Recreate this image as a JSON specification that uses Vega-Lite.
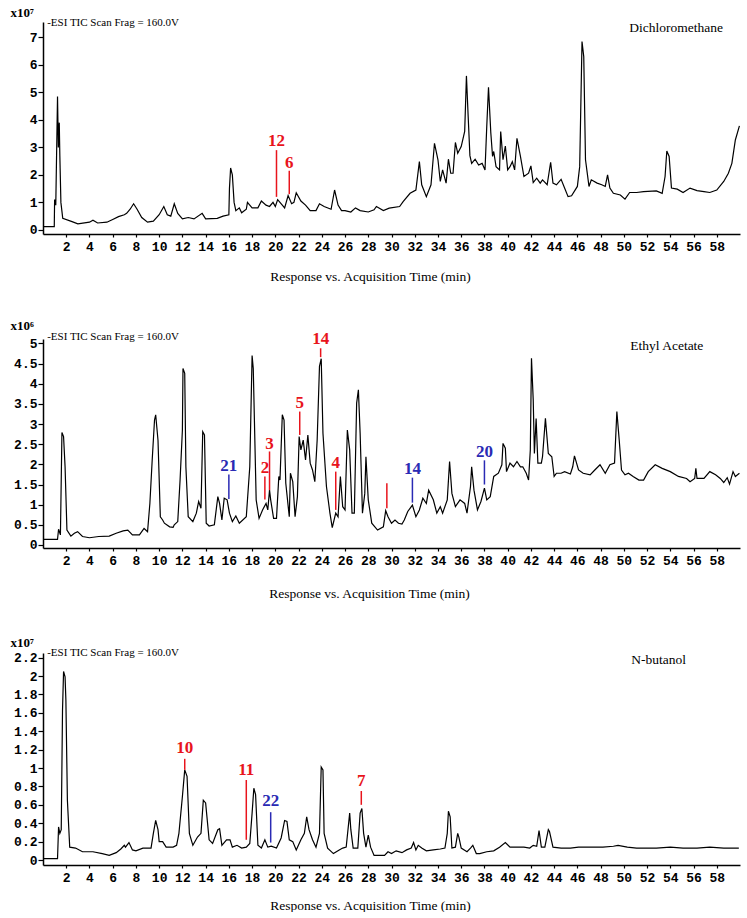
{
  "$schema": "https://vega.github.io/schema/vega-lite/v6.json",
  "background": "white",
  "padding": {"left": 10, "top": 6, "right": 0, "bottom": 0},
  "spacing": 105,
  "bounds": "flush",
  "config": {
    "view": {"stroke": null},
    "axis": {"grid": false, "domainColor": "black", "tickColor": "black", "labelColor": "black", "titleColor": "black", "labelFont": "Liberation Mono", "labelFontWeight": "bold", "labelFontSize": 13, "domainWidth": 1.5, "tickWidth": 1.2},
    "text": {"font": "Liberation Serif"}
  },
  "datasets": {
    "dcm": [
      {"t":0,"v":0.12},{"t":0.97,"v":0.12},{"t":1.0,"v":1.1},{"t":1.1,"v":0.9},{"t":1.25,"v":4.85},{"t":1.32,"v":3.0},{"t":1.4,"v":3.9},{"t":1.45,"v":2.7},{"t":1.54,"v":1.0},{"t":1.7,"v":0.42},{"t":2.5,"v":0.3},{"t":3,"v":0.22},{"t":4,"v":0.28},{"t":4.3,"v":0.35},{"t":4.7,"v":0.25},{"t":5.5,"v":0.28},{"t":6,"v":0.38},{"t":6.5,"v":0.48},{"t":7,"v":0.55},{"t":7.2,"v":0.6},{"t":7.5,"v":0.75},{"t":7.8,"v":0.95},{"t":8.1,"v":0.75},{"t":8.5,"v":0.45},{"t":9,"v":0.28},{"t":9.5,"v":0.32},{"t":10,"v":0.55},{"t":10.4,"v":0.85},{"t":10.7,"v":0.55},{"t":11,"v":0.5},{"t":11.3,"v":0.95},{"t":11.6,"v":0.6},{"t":12,"v":0.4},{"t":12.5,"v":0.45},{"t":13,"v":0.4},{"t":13.7,"v":0.6},{"t":14,"v":0.4},{"t":15,"v":0.42},{"t":15.5,"v":0.5},{"t":16,"v":0.55},{"t":16.05,"v":1.5},{"t":16.15,"v":2.25},{"t":16.3,"v":2.0},{"t":16.45,"v":1.0},{"t":16.6,"v":0.7},{"t":16.9,"v":0.8},{"t":17.1,"v":0.62},{"t":17.5,"v":0.75},{"t":17.6,"v":1.0},{"t":18,"v":0.8},{"t":18.5,"v":0.8},{"t":18.8,"v":1.05},{"t":19.2,"v":0.9},{"t":19.5,"v":0.85},{"t":19.8,"v":1.0},{"t":20,"v":0.85},{"t":20.2,"v":1.1},{"t":20.6,"v":0.9},{"t":20.8,"v":0.8},{"t":21.1,"v":1.25},{"t":21.4,"v":0.95},{"t":21.6,"v":1.0},{"t":21.8,"v":1.35},{"t":22.2,"v":1.05},{"t":22.6,"v":0.9},{"t":23,"v":0.7},{"t":23.5,"v":0.7},{"t":23.8,"v":0.95},{"t":24.2,"v":0.85},{"t":24.8,"v":0.75},{"t":25.1,"v":1.45},{"t":25.4,"v":0.9},{"t":25.7,"v":0.7},{"t":26,"v":0.7},{"t":26.5,"v":0.65},{"t":26.9,"v":0.8},{"t":27.3,"v":0.7},{"t":28,"v":0.65},{"t":28.5,"v":0.73},{"t":28.7,"v":0.85},{"t":29.3,"v":0.7},{"t":29.8,"v":0.79},{"t":30.7,"v":0.85},{"t":31.0,"v":1.03},{"t":31.6,"v":1.33},{"t":32.1,"v":1.45},{"t":32.4,"v":2.48},{"t":32.6,"v":1.64},{"t":33.0,"v":1.21},{"t":33.4,"v":1.64},{"t":33.7,"v":3.15},{"t":34.0,"v":2.55},{"t":34.2,"v":1.76},{"t":34.4,"v":2.18},{"t":34.7,"v":1.7},{"t":34.9,"v":2.57},{"t":35.1,"v":2.06},{"t":35.3,"v":2.06},{"t":35.5,"v":3.18},{"t":35.7,"v":2.79},{"t":36.0,"v":3.03},{"t":36.3,"v":3.58},{"t":36.45,"v":5.6},{"t":36.6,"v":4.12},{"t":36.75,"v":2.7},{"t":36.9,"v":2.42},{"t":37.2,"v":2.57},{"t":37.5,"v":2.36},{"t":37.8,"v":2.42},{"t":38.05,"v":2.18},{"t":38.2,"v":3.76},{"t":38.35,"v":5.19},{"t":38.55,"v":3.52},{"t":38.7,"v":2.67},{"t":38.8,"v":2.85},{"t":39.0,"v":2.3},{"t":39.3,"v":2.18},{"t":39.4,"v":3.58},{"t":39.6,"v":2.55},{"t":39.8,"v":3.05},{"t":40.0,"v":2.18},{"t":40.2,"v":2.3},{"t":40.4,"v":2.48},{"t":40.6,"v":2.18},{"t":40.8,"v":3.33},{"t":41.1,"v":2.67},{"t":41.4,"v":1.94},{"t":41.8,"v":2.06},{"t":42.0,"v":2.33},{"t":42.2,"v":1.72},{"t":42.5,"v":1.88},{"t":42.8,"v":1.7},{"t":43.0,"v":1.82},{"t":43.4,"v":1.64},{"t":43.7,"v":2.46},{"t":43.9,"v":1.7},{"t":44.2,"v":1.64},{"t":44.6,"v":1.84},{"t":44.9,"v":1.52},{"t":45.2,"v":1.21},{"t":45.5,"v":1.24},{"t":46.0,"v":1.58},{"t":46.2,"v":2.3},{"t":46.4,"v":6.85},{"t":46.55,"v":6.3},{"t":46.7,"v":2.55},{"t":47.0,"v":1.58},{"t":47.2,"v":1.82},{"t":47.7,"v":1.7},{"t":48.1,"v":1.64},{"t":48.4,"v":1.58},{"t":48.6,"v":2.0},{"t":48.8,"v":1.52},{"t":49.1,"v":1.33},{"t":49.7,"v":1.27},{"t":50.1,"v":1.12},{"t":50.5,"v":1.36},{"t":51.1,"v":1.36},{"t":51.7,"v":1.39},{"t":52.8,"v":1.42},{"t":53.3,"v":1.33},{"t":53.55,"v":1.94},{"t":53.7,"v":2.87},{"t":53.9,"v":2.67},{"t":54.1,"v":1.52},{"t":54.6,"v":1.48},{"t":55.1,"v":1.36},{"t":55.7,"v":1.52},{"t":56.3,"v":1.43},{"t":56.9,"v":1.39},{"t":57.4,"v":1.36},{"t":58.0,"v":1.45},{"t":58.6,"v":1.76},{"t":59.0,"v":2.06},{"t":59.3,"v":2.42},{"t":59.6,"v":3.27},{"t":59.95,"v":3.78}
    ],
    "ea": [
      {"t":0,"v":0.14},{"t":1.25,"v":0.14},{"t":1.34,"v":0.39},{"t":1.5,"v":0.25},{"t":1.63,"v":2.79},{"t":1.77,"v":2.69},{"t":1.9,"v":1.94},{"t":2.06,"v":0.37},{"t":2.4,"v":0.22},{"t":2.7,"v":0.29},{"t":2.98,"v":0.33},{"t":3.4,"v":0.21},{"t":4.0,"v":0.18},{"t":4.8,"v":0.21},{"t":5.7,"v":0.22},{"t":6.3,"v":0.29},{"t":6.9,"v":0.35},{"t":7.3,"v":0.37},{"t":7.7,"v":0.25},{"t":8.3,"v":0.25},{"t":8.7,"v":0.41},{"t":9.0,"v":0.33},{"t":9.2,"v":1.03},{"t":9.4,"v":2.11},{"t":9.6,"v":3.1},{"t":9.7,"v":3.23},{"t":9.9,"v":2.6},{"t":10.1,"v":0.7},{"t":10.3,"v":0.62},{"t":10.45,"v":0.54},{"t":10.9,"v":0.45},{"t":11.2,"v":0.44},{"t":11.3,"v":0.5},{"t":11.6,"v":0.58},{"t":11.8,"v":1.61},{"t":12.0,"v":2.85},{"t":12.05,"v":4.38},{"t":12.2,"v":4.26},{"t":12.3,"v":1.94},{"t":12.5,"v":0.7},{"t":12.9,"v":0.58},{"t":13.2,"v":0.79},{"t":13.4,"v":1.08},{"t":13.6,"v":0.91},{"t":13.75,"v":2.81},{"t":13.9,"v":2.73},{"t":14.05,"v":0.54},{"t":14.3,"v":0.47},{"t":14.75,"v":0.5},{"t":15.05,"v":1.2},{"t":15.2,"v":1.03},{"t":15.4,"v":0.62},{"t":15.6,"v":1.16},{"t":15.85,"v":1.12},{"t":16.05,"v":0.79},{"t":16.3,"v":0.58},{"t":16.6,"v":0.72},{"t":16.9,"v":0.54},{"t":17.5,"v":0.7},{"t":17.8,"v":1.94},{"t":18.0,"v":4.7},{"t":18.1,"v":4.38},{"t":18.35,"v":1.12},{"t":18.6,"v":0.66},{"t":18.9,"v":0.87},{"t":19.2,"v":1.03},{"t":19.35,"v":0.87},{"t":19.5,"v":1.36},{"t":19.6,"v":1.12},{"t":19.85,"v":0.66},{"t":20.1,"v":0.66},{"t":20.3,"v":1.7},{"t":20.4,"v":1.61},{"t":20.6,"v":3.23},{"t":20.75,"v":3.1},{"t":20.9,"v":1.53},{"t":21.2,"v":0.7},{"t":21.3,"v":1.78},{"t":21.5,"v":1.57},{"t":21.7,"v":0.7},{"t":21.9,"v":1.2},{"t":22.05,"v":2.69},{"t":22.2,"v":2.36},{"t":22.4,"v":2.6},{"t":22.6,"v":2.11},{"t":22.8,"v":2.73},{"t":23.0,"v":2.03},{"t":23.2,"v":1.86},{"t":23.4,"v":1.57},{"t":23.6,"v":2.6},{"t":23.8,"v":4.43},{"t":23.95,"v":4.62},{"t":24.1,"v":2.77},{"t":24.4,"v":1.45},{"t":24.7,"v":0.79},{"t":24.9,"v":0.43},{"t":25.2,"v":0.79},{"t":25.4,"v":0.7},{"t":25.6,"v":1.7},{"t":25.8,"v":0.95},{"t":26.0,"v":0.87},{"t":26.2,"v":2.85},{"t":26.4,"v":2.36},{"t":26.6,"v":0.79},{"t":26.8,"v":0.79},{"t":27.0,"v":3.52},{"t":27.15,"v":3.85},{"t":27.3,"v":2.77},{"t":27.5,"v":0.79},{"t":27.7,"v":1.28},{"t":27.8,"v":2.19},{"t":28.0,"v":1.12},{"t":28.3,"v":0.54},{"t":28.8,"v":0.37},{"t":29.3,"v":0.45},{"t":29.5,"v":0.85},{"t":29.7,"v":0.7},{"t":30.0,"v":0.54},{"t":30.3,"v":0.62},{"t":30.6,"v":0.54},{"t":30.9,"v":0.52},{"t":31.1,"v":0.62},{"t":31.4,"v":0.83},{"t":31.8,"v":0.99},{"t":32.1,"v":0.7},{"t":32.4,"v":0.87},{"t":32.7,"v":1.16},{"t":33.0,"v":1.03},{"t":33.2,"v":1.36},{"t":33.6,"v":1.12},{"t":33.9,"v":0.79},{"t":34.2,"v":0.95},{"t":34.4,"v":0.79},{"t":34.8,"v":1.12},{"t":35.0,"v":2.07},{"t":35.2,"v":1.28},{"t":35.5,"v":0.95},{"t":35.9,"v":1.12},{"t":36.3,"v":1.03},{"t":36.5,"v":0.79},{"t":36.8,"v":1.45},{"t":36.9,"v":1.94},{"t":37.1,"v":1.36},{"t":37.4,"v":0.87},{"t":37.7,"v":1.08},{"t":38.0,"v":1.41},{"t":38.2,"v":1.12},{"t":38.5,"v":1.2},{"t":38.8,"v":1.7},{"t":39.2,"v":1.78},{"t":39.5,"v":1.99},{"t":39.6,"v":2.52},{"t":39.8,"v":2.4},{"t":39.9,"v":1.82},{"t":40.2,"v":2.03},{"t":40.5,"v":1.94},{"t":40.8,"v":2.07},{"t":41.1,"v":1.94},{"t":41.3,"v":1.94},{"t":41.6,"v":1.78},{"t":41.8,"v":1.61},{"t":41.95,"v":2.36},{"t":42.05,"v":4.63},{"t":42.2,"v":3.6},{"t":42.3,"v":2.27},{"t":42.45,"v":3.14},{"t":42.6,"v":2.03},{"t":42.9,"v":2.03},{"t":43.0,"v":2.19},{"t":43.25,"v":3.14},{"t":43.5,"v":2.27},{"t":43.8,"v":2.19},{"t":44.0,"v":1.7},{"t":44.2,"v":1.78},{"t":44.6,"v":1.78},{"t":44.9,"v":1.82},{"t":45.4,"v":1.76},{"t":45.6,"v":1.94},{"t":45.75,"v":2.21},{"t":46.1,"v":1.86},{"t":46.5,"v":1.78},{"t":47.1,"v":1.74},{"t":47.5,"v":1.86},{"t":47.95,"v":1.99},{"t":48.4,"v":1.78},{"t":48.8,"v":1.99},{"t":49.2,"v":2.03},{"t":49.4,"v":3.31},{"t":49.6,"v":2.61},{"t":49.8,"v":1.86},{"t":50.1,"v":1.74},{"t":50.4,"v":1.78},{"t":50.8,"v":1.7},{"t":51.3,"v":1.61},{"t":51.7,"v":1.61},{"t":52.1,"v":1.82},{"t":52.7,"v":1.99},{"t":53.3,"v":1.9},{"t":54.0,"v":1.82},{"t":54.7,"v":1.7},{"t":55.4,"v":1.65},{"t":55.7,"v":1.57},{"t":56.1,"v":1.65},{"t":56.2,"v":1.9},{"t":56.3,"v":1.65},{"t":56.9,"v":1.65},{"t":57.4,"v":1.82},{"t":57.9,"v":1.74},{"t":58.3,"v":1.65},{"t":58.6,"v":1.55},{"t":58.9,"v":1.67},{"t":59.1,"v":1.51},{"t":59.4,"v":1.82},{"t":59.6,"v":1.7},{"t":59.95,"v":1.78}
    ],
    "nb": [
      {"t":0,"v":0.015},{"t":1.25,"v":0.015},{"t":1.34,"v":0.36},{"t":1.45,"v":0.29},{"t":1.57,"v":0.33},{"t":1.68,"v":1.63},{"t":1.77,"v":2.05},{"t":1.9,"v":1.99},{"t":1.97,"v":1.74},{"t":2.1,"v":0.65},{"t":2.3,"v":0.14},{"t":2.8,"v":0.13},{"t":3.4,"v":0.09},{"t":4.3,"v":0.09},{"t":5.1,"v":0.07},{"t":5.7,"v":0.05},{"t":6.3,"v":0.08},{"t":6.7,"v":0.12},{"t":7.0,"v":0.16},{"t":7.1,"v":0.14},{"t":7.4,"v":0.19},{"t":7.7,"v":0.11},{"t":8.0,"v":0.1},{"t":8.6,"v":0.13},{"t":9.3,"v":0.13},{"t":9.5,"v":0.29},{"t":9.7,"v":0.43},{"t":9.9,"v":0.33},{"t":10.0,"v":0.2},{"t":10.3,"v":0.2},{"t":10.6,"v":0.14},{"t":11.2,"v":0.14},{"t":11.5,"v":0.16},{"t":11.7,"v":0.29},{"t":12.0,"v":0.69},{"t":12.2,"v":0.98},{"t":12.4,"v":0.91},{"t":12.6,"v":0.29},{"t":12.9,"v":0.16},{"t":13.3,"v":0.25},{"t":13.6,"v":0.29},{"t":13.8,"v":0.65},{"t":14.0,"v":0.62},{"t":14.3,"v":0.22},{"t":14.6,"v":0.18},{"t":15.05,"v":0.33},{"t":15.2,"v":0.34},{"t":15.4,"v":0.16},{"t":15.8,"v":0.22},{"t":16.1,"v":0.22},{"t":16.3,"v":0.14},{"t":16.7,"v":0.16},{"t":17.1,"v":0.13},{"t":17.5,"v":0.14},{"t":17.8,"v":0.18},{"t":18.0,"v":0.51},{"t":18.15,"v":0.78},{"t":18.3,"v":0.71},{"t":18.5,"v":0.16},{"t":18.8,"v":0.13},{"t":19.1,"v":0.22},{"t":19.35,"v":0.14},{"t":19.65,"v":0.15},{"t":20.1,"v":0.13},{"t":20.5,"v":0.24},{"t":20.8,"v":0.43},{"t":21.0,"v":0.42},{"t":21.2,"v":0.22},{"t":21.5,"v":0.2},{"t":21.8,"v":0.11},{"t":22.2,"v":0.22},{"t":22.5,"v":0.29},{"t":22.7,"v":0.47},{"t":22.9,"v":0.33},{"t":23.2,"v":0.22},{"t":23.5,"v":0.14},{"t":23.8,"v":0.29},{"t":23.95,"v":1.01},{"t":24.1,"v":0.98},{"t":24.2,"v":0.29},{"t":24.5,"v":0.13},{"t":25.0,"v":0.07},{"t":25.5,"v":0.11},{"t":25.8,"v":0.13},{"t":26.1,"v":0.14},{"t":26.4,"v":0.51},{"t":26.5,"v":0.33},{"t":26.7,"v":0.13},{"t":27.1,"v":0.13},{"t":27.3,"v":0.51},{"t":27.45,"v":0.56},{"t":27.6,"v":0.29},{"t":27.8,"v":0.14},{"t":28.0,"v":0.27},{"t":28.2,"v":0.14},{"t":28.5,"v":0.05},{"t":29.0,"v":0.05},{"t":29.4,"v":0.05},{"t":29.7,"v":0.09},{"t":30.0,"v":0.07},{"t":30.4,"v":0.1},{"t":30.9,"v":0.08},{"t":31.3,"v":0.11},{"t":31.7,"v":0.13},{"t":31.9,"v":0.19},{"t":32.1,"v":0.11},{"t":32.3,"v":0.16},{"t":32.6,"v":0.13},{"t":33.0,"v":0.1},{"t":33.6,"v":0.11},{"t":34.2,"v":0.12},{"t":34.6,"v":0.13},{"t":34.8,"v":0.29},{"t":34.9,"v":0.53},{"t":35.05,"v":0.47},{"t":35.2,"v":0.13},{"t":35.5,"v":0.14},{"t":35.7,"v":0.29},{"t":35.8,"v":0.25},{"t":36.0,"v":0.13},{"t":36.5,"v":0.09},{"t":36.8,"v":0.13},{"t":37.0,"v":0.16},{"t":37.3,"v":0.07},{"t":37.6,"v":0.07},{"t":38.2,"v":0.09},{"t":38.8,"v":0.1},{"t":39.3,"v":0.14},{"t":39.8,"v":0.19},{"t":40.2,"v":0.14},{"t":40.8,"v":0.14},{"t":41.4,"v":0.14},{"t":41.9,"v":0.13},{"t":42.2,"v":0.16},{"t":42.5,"v":0.15},{"t":42.7,"v":0.32},{"t":42.9,"v":0.14},{"t":43.2,"v":0.14},{"t":43.5,"v":0.33},{"t":43.6,"v":0.31},{"t":43.9,"v":0.14},{"t":44.6,"v":0.13},{"t":45.4,"v":0.13},{"t":46.1,"v":0.14},{"t":47.1,"v":0.14},{"t":48.2,"v":0.14},{"t":49.1,"v":0.15},{"t":49.5,"v":0.16},{"t":50.3,"v":0.14},{"t":51.1,"v":0.13},{"t":52.0,"v":0.13},{"t":52.8,"v":0.13},{"t":54.0,"v":0.14},{"t":55.1,"v":0.13},{"t":56.3,"v":0.13},{"t":57.4,"v":0.14},{"t":58.6,"v":0.13},{"t":59.9,"v":0.13}
    ],
    "ann": [
      {"p":"dcm","x":20.1,"y1":1.2,"y2":2.9,"ly":3.25,"lab":"12","c":"red"},
      {"p":"dcm","x":21.2,"y1":1.3,"y2":2.15,"ly":2.45,"lab":"6","c":"red"},
      {"p":"ea","x":16.0,"y1":1.14,"y2":1.75,"ly":1.97,"lab":"21","c":"blue"},
      {"p":"ea","x":19.1,"y1":1.13,"y2":1.7,"ly":1.92,"lab":"2","c":"red"},
      {"p":"ea","x":19.5,"y1":1.36,"y2":2.32,"ly":2.5,"lab":"3","c":"red"},
      {"p":"ea","x":22.1,"y1":2.73,"y2":3.31,"ly":3.52,"lab":"5","c":"red"},
      {"p":"ea","x":23.9,"y1":4.66,"y2":4.88,"ly":5.12,"lab":"14","c":"red"},
      {"p":"ea","x":25.2,"y1":0.87,"y2":1.82,"ly":2.04,"lab":"4","c":"red"},
      {"p":"ea","x":29.6,"y1":0.91,"y2":1.53,"ly":1.7,"lab":"","c":"red"},
      {"p":"ea","x":31.8,"y1":1.05,"y2":1.67,"ly":1.88,"lab":"14","c":"blue"},
      {"p":"ea","x":38.0,"y1":1.5,"y2":2.1,"ly":2.3,"lab":"20","c":"blue"},
      {"p":"nb","x":12.2,"y1":0.98,"y2":1.1,"ly":1.22,"lab":"10","c":"red"},
      {"p":"nb","x":17.5,"y1":0.22,"y2":0.87,"ly":0.98,"lab":"11","c":"red"},
      {"p":"nb","x":19.6,"y1":0.19,"y2":0.52,"ly":0.64,"lab":"22","c":"blue"},
      {"p":"nb","x":27.4,"y1":0.6,"y2":0.75,"ly":0.86,"lab":"7","c":"red"}
    ],
    "lbl": [
      {"p":"dcm","x":0.36,"y":7.53,"txt":"-ESI TIC Scan Frag = 160.0V","k":"esi"},
      {"p":"dcm","x":54.5,"y":7.35,"txt":"Dichloromethane","k":"name"},
      {"p":"ea","x":0.36,"y":5.15,"txt":"-ESI TIC Scan Frag = 160.0V","k":"esi"},
      {"p":"ea","x":53.7,"y":4.94,"txt":"Ethyl Acetate","k":"name"},
      {"p":"nb","x":0.36,"y":2.25,"txt":"-ESI TIC Scan Frag = 160.0V","k":"esi"},
      {"p":"nb","x":53.0,"y":2.17,"txt":"N-butanol","k":"name"}
    ]
  },
  "vconcat": [
    {
      "width": 697, "height": 212,
      "encoding": {
        "x": {"type": "quantitative", "scale": {"domain": [0, 60], "nice": false, "zero": false},
              "axis": {"values": [2,4,6,8,10,12,14,16,18,20,22,24,26,28,30,32,34,36,38,40,42,44,46,48,50,52,54,56,58], "title": "Response vs. Acquisition Time (min)", "titleFont": "Liberation Serif", "titleFontWeight": "normal", "titleFontSize": 13.5, "titleX": 327, "titleY": 42, "titleAlign": "center", "titleBaseline": "middle", "tickSize": 3, "labelPadding": 3, "labelFlush": false}},
        "y": {"type": "quantitative", "scale": {"domain": [-0.15, 7.56], "nice": false, "zero": false},
              "axis": {"values": [0,1,2,3,4,5,6,7], "format": "~g", "title": "x10⁷", "titleAngle": 0, "titleAlign": "left", "titleBaseline": "top", "titleX": -33, "titleY": -16, "titleFont": "Liberation Serif", "titleFontWeight": "bold", "titleFontSize": 13, "tickSize": 5, "labelPadding": 1}}
      },
      "layer": [
        {"data": {"name": "dcm"}, "mark": {"type": "line", "color": "black", "strokeWidth": 1.2}, "encoding": {"x": {"field": "t"}, "y": {"field": "v"}}},
        {"data": {"name": "ann"}, "transform": [{"filter": "datum.p === 'dcm'"}], "mark": {"type": "rule", "strokeWidth": 1.5},
         "encoding": {"x": {"field": "x"}, "y": {"field": "y1"}, "y2": {"field": "y2"}, "color": {"field": "c", "type": "nominal", "scale": {"domain": ["red", "blue"], "range": ["#e8141c", "#2a2ab4"]}, "legend": null}}},
        {"data": {"name": "ann"}, "transform": [{"filter": "datum.p === 'dcm'"}], "mark": {"type": "text", "fontWeight": "bold", "fontSize": 17, "baseline": "middle"},
         "encoding": {"x": {"field": "x"}, "y": {"field": "ly"}, "text": {"field": "lab"}, "color": {"field": "c", "type": "nominal", "scale": {"domain": ["red", "blue"], "range": ["#e8141c", "#2a2ab4"]}, "legend": null}}},
        {"data": {"name": "lbl"}, "transform": [{"filter": "datum.p === 'dcm' && datum.k === 'esi'"}], "mark": {"type": "text", "fontSize": 11, "align": "left", "baseline": "middle", "color": "black"},
         "encoding": {"x": {"field": "x"}, "y": {"field": "y"}, "text": {"field": "txt"}}},
        {"data": {"name": "lbl"}, "transform": [{"filter": "datum.p === 'dcm' && datum.k === 'name'"}], "mark": {"type": "text", "fontSize": 13.5, "align": "center", "baseline": "middle", "color": "black"},
         "encoding": {"x": {"field": "x"}, "y": {"field": "y"}, "text": {"field": "txt"}}}
      ]
    },
    {
      "width": 697, "height": 209,
      "encoding": {
        "x": {"type": "quantitative", "scale": {"domain": [0, 60], "nice": false, "zero": false},
              "axis": {"values": [2,4,6,8,10,12,14,16,18,20,22,24,26,28,30,32,34,36,38,40,42,44,46,48,50,52,54,56,58], "title": "Response vs. Acquisition Time (min)", "titleFont": "Liberation Serif", "titleFontWeight": "normal", "titleFontSize": 13.5, "titleX": 326, "titleY": 45, "titleAlign": "center", "titleBaseline": "middle", "tickSize": 3, "labelPadding": 3, "labelFlush": false}},
        "y": {"type": "quantitative", "scale": {"domain": [-0.075, 5.11], "nice": false, "zero": false},
              "axis": {"values": [0,0.5,1,1.5,2,2.5,3,3.5,4,4.5,5], "format": "~g", "title": "x10⁶", "titleAngle": 0, "titleAlign": "left", "titleBaseline": "top", "titleX": -33, "titleY": -20, "titleFont": "Liberation Serif", "titleFontWeight": "bold", "titleFontSize": 13, "tickSize": 5, "labelPadding": 1}}
      },
      "layer": [
        {"data": {"name": "ea"}, "mark": {"type": "line", "color": "black", "strokeWidth": 1.2}, "encoding": {"x": {"field": "t"}, "y": {"field": "v"}}},
        {"data": {"name": "ann"}, "transform": [{"filter": "datum.p === 'ea'"}], "mark": {"type": "rule", "strokeWidth": 1.5},
         "encoding": {"x": {"field": "x"}, "y": {"field": "y1"}, "y2": {"field": "y2"}, "color": {"field": "c", "type": "nominal", "scale": {"domain": ["red", "blue"], "range": ["#e8141c", "#2a2ab4"]}, "legend": null}}},
        {"data": {"name": "ann"}, "transform": [{"filter": "datum.p === 'ea'"}], "mark": {"type": "text", "fontWeight": "bold", "fontSize": 17, "baseline": "middle"},
         "encoding": {"x": {"field": "x"}, "y": {"field": "ly"}, "text": {"field": "lab"}, "color": {"field": "c", "type": "nominal", "scale": {"domain": ["red", "blue"], "range": ["#e8141c", "#2a2ab4"]}, "legend": null}}},
        {"data": {"name": "lbl"}, "transform": [{"filter": "datum.p === 'ea' && datum.k === 'esi'"}], "mark": {"type": "text", "fontSize": 11, "align": "left", "baseline": "middle", "color": "black"},
         "encoding": {"x": {"field": "x"}, "y": {"field": "y"}, "text": {"field": "txt"}}},
        {"data": {"name": "lbl"}, "transform": [{"filter": "datum.p === 'ea' && datum.k === 'name'"}], "mark": {"type": "text", "fontSize": 13.5, "align": "center", "baseline": "middle", "color": "black"},
         "encoding": {"x": {"field": "x"}, "y": {"field": "y"}, "text": {"field": "txt"}}}
      ]
    },
    {
      "width": 697, "height": 212,
      "encoding": {
        "x": {"type": "quantitative", "scale": {"domain": [0, 60], "nice": false, "zero": false},
              "axis": {"values": [2,4,6,8,10,12,14,16,18,20,22,24,26,28,30,32,34,36,38,40,42,44,46,48,50,52,54,56,58], "title": "Response vs. Acquisition Time (min)", "titleFont": "Liberation Serif", "titleFontWeight": "normal", "titleFontSize": 13.5, "titleX": 327, "titleY": 40, "titleAlign": "center", "titleBaseline": "middle", "tickSize": 3, "labelPadding": 3, "labelFlush": false}},
        "y": {"type": "quantitative", "scale": {"domain": [-0.054, 2.25], "nice": false, "zero": false},
              "axis": {"values": [0,0.2,0.4,0.6,0.8,1,1.2,1.4,1.6,1.8,2,2.2], "format": "~g", "title": "x10⁷", "titleAngle": 0, "titleAlign": "left", "titleBaseline": "top", "titleX": -33, "titleY": -17, "titleFont": "Liberation Serif", "titleFontWeight": "bold", "titleFontSize": 13, "tickSize": 5, "labelPadding": 1}}
      },
      "layer": [
        {"data": {"name": "nb"}, "mark": {"type": "line", "color": "black", "strokeWidth": 1.2}, "encoding": {"x": {"field": "t"}, "y": {"field": "v"}}},
        {"data": {"name": "ann"}, "transform": [{"filter": "datum.p === 'nb'"}], "mark": {"type": "rule", "strokeWidth": 1.5},
         "encoding": {"x": {"field": "x"}, "y": {"field": "y1"}, "y2": {"field": "y2"}, "color": {"field": "c", "type": "nominal", "scale": {"domain": ["red", "blue"], "range": ["#e8141c", "#2a2ab4"]}, "legend": null}}},
        {"data": {"name": "ann"}, "transform": [{"filter": "datum.p === 'nb'"}], "mark": {"type": "text", "fontWeight": "bold", "fontSize": 17, "baseline": "middle"},
         "encoding": {"x": {"field": "x"}, "y": {"field": "ly"}, "text": {"field": "lab"}, "color": {"field": "c", "type": "nominal", "scale": {"domain": ["red", "blue"], "range": ["#e8141c", "#2a2ab4"]}, "legend": null}}},
        {"data": {"name": "lbl"}, "transform": [{"filter": "datum.p === 'nb' && datum.k === 'esi'"}], "mark": {"type": "text", "fontSize": 11, "align": "left", "baseline": "middle", "color": "black"},
         "encoding": {"x": {"field": "x"}, "y": {"field": "y"}, "text": {"field": "txt"}}},
        {"data": {"name": "lbl"}, "transform": [{"filter": "datum.p === 'nb' && datum.k === 'name'"}], "mark": {"type": "text", "fontSize": 13.5, "align": "center", "baseline": "middle", "color": "black"},
         "encoding": {"x": {"field": "x"}, "y": {"field": "y"}, "text": {"field": "txt"}}}
      ]
    }
  ]
}
